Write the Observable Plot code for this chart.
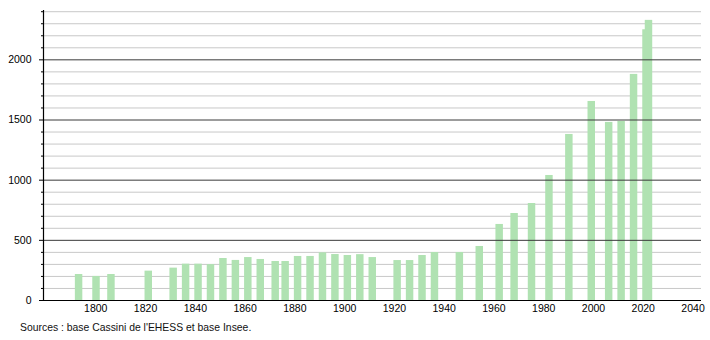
<!DOCTYPE html>
<html><head><meta charset="utf-8">
<script src="https://cdn.jsdelivr.net/npm/d3@7"></script>
<script src="https://cdn.jsdelivr.net/npm/@observablehq/plot@0.6"></script>
<style>
body{margin:0;background:#fff;font-family:"Liberation Sans",Arial,sans-serif}
#wrap{position:relative;width:710px;height:340px}
#cap{position:absolute;left:20px;top:322px;font-size:10.4px;color:#111;white-space:nowrap}
</style></head><body>
<div id="wrap"><div id="chart"></div><div id="cap">Sources : base Cassini de l'EHESS et base Insee.</div></div>
<script>
const years = [1793,1800,1806,1821,1831,1836,1841,1846,1851,1856,1861,1866,1872,1876,1881,1886,1891,1896,1901,1906,1911,1921,1926,1931,1936,1946,1954,1962,1968,1975,1982,1990,1999,2006,2011,2016,2021,2022];
const population = [216,200,216,244,269,302,302,298,349,333,357,341,324,324,366,366,396,382,374,381,357,332,332,374,399,399,449,632,723,806,1039,1380,1654,1480,1488,1879,2250,2328];
const xTicks = [1800,1820,1840,1860,1880,1900,1920,1940,1960,1980,2000,2020,2040];
const yMajor = [0,500,1000,1500,2000];
const yMinor = [100,200,300,400,600,700,800,900,1100,1200,1300,1400,1600,1700,1800,1900,2100,2200,2300,2400];

const data = years.map((y,i)=>({year:y, pop:population[i]}));

const chart = Plot.plot({
  width: 710, height: 318,
  marginLeft: 43, marginRight: 9, marginTop: 10, marginBottom: 18,
  style: {fontFamily: "'Liberation Sans', Arial, sans-serif", fontSize: "10.5px", color: "#000", background: "#fff"},
  x: {domain: [1779, 2043.4]},
  y: {domain: [0, 2410]},
  marks: [
    Plot.ruleY(yMinor, {stroke: "#c8c8c8", strokeWidth: 1}),
    Plot.rectY(data, {x1: d => d.year - 1.2, x2: d => d.year + 1.8, y: "pop", fill: "#b0e2b2"}),
    Plot.ruleY(yMajor.slice(1), {stroke: "#3a3a3a", strokeWidth: 1}),
    Plot.ruleX([1779], {stroke: "#000", strokeWidth: 1.2}),
    Plot.ruleY([0], {stroke: "#000", strokeWidth: 1.2}),
    Plot.axisY(yMajor, {tickSize: 4, tickPadding: 8, tickFormat: d => String(d), fontSize: 10.5, label: null}),
    Plot.axisY(yMinor, {tickSize: 2, tickFormat: () => "", label: null}),
    Plot.axisX(xTicks, {tickSize: 0, tickPadding: 3.8, tickFormat: d => String(d), fontSize: 10.5, label: null})
  ]
});
document.getElementById("chart").appendChild(chart);
</script>
</body></html>
